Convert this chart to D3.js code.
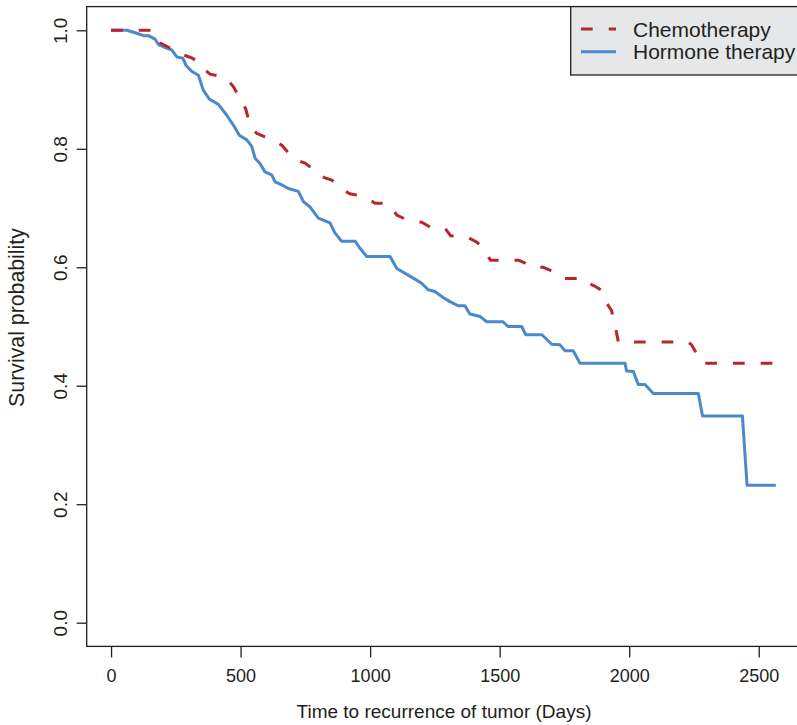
<!DOCTYPE html>
<html lang="en">
<head>
  <meta charset="UTF-8">
  <title>Survival curves - recurrence of tumor</title>
  <script src="https://d3js.org/d3.v7.min.js"></script>
  <style>
    body { margin: 0; background: #fff; }
    svg text { font-family: "Liberation Sans", Arial, Helvetica, sans-serif; fill: #231f20; }
  </style>
</head>
<body>
  <svg width="797" height="725"></svg>

  <script>
    // curve vertices: time (days) and survival probability
    const chemoDays = [0, 158, 174, 189, 228, 259, 289, 313, 343, 356, 382, 413, 444, 472, 490, 504, 520, 529, 539, 562,
      594, 620, 659, 675, 697, 727, 749, 775, 800, 826, 852, 880, 903, 922, 970, 999, 1019, 1064, 1084, 1103, 1137,
      1162, 1199, 1231, 1262, 1289, 1311, 1339, 1370, 1409, 1424, 1443, 1465, 1574, 1598, 1621, 1668, 1694, 1713,
      1745, 1825, 1842, 1868, 1890, 1904, 1918, 1932, 1941, 1949, 1958, 2227, 2241, 2266, 2281, 2566];
    const chemoSurv = [1.0, 1.0, 0.987, 0.979, 0.970, 0.963, 0.957, 0.953, 0.945, 0.936, 0.926, 0.923, 0.919, 0.905, 0.891,
      0.882, 0.867, 0.852, 0.838, 0.826, 0.820, 0.816, 0.806, 0.798, 0.787, 0.779, 0.776, 0.767, 0.756, 0.751, 0.747,
      0.737, 0.729, 0.724, 0.720, 0.714, 0.708, 0.708, 0.700, 0.688, 0.681, 0.678, 0.676, 0.668, 0.668, 0.666, 0.653,
      0.652, 0.652, 0.643, 0.638, 0.625, 0.612, 0.612, 0.607, 0.600, 0.600, 0.595, 0.591, 0.581, 0.581, 0.573, 0.568,
      0.562, 0.545, 0.536, 0.527, 0.508, 0.494, 0.474, 0.474, 0.469, 0.450, 0.438, 0.438];

    const hormoneDays = [0, 61, 99, 125, 144, 170, 183, 208, 234, 254, 277, 289, 311, 337, 356, 379, 414, 446, 472, 495,
      524, 543, 556, 575, 594, 620, 633, 659, 684, 723, 742, 768, 800, 845, 864, 890, 942, 961, 987, 1077, 1103, 1173,
      1199, 1224, 1250, 1282, 1308, 1340, 1366, 1385, 1424, 1450, 1513, 1532, 1585, 1601, 1663, 1701, 1733, 1752, 1784,
      1810, 1984, 1990, 2016, 2035, 2061, 2093, 2267, 2283, 2437, 2455, 2566];
    const hormoneSurv = [1.0, 1.0, 0.995, 0.991, 0.991, 0.985, 0.976, 0.971, 0.967, 0.955, 0.953, 0.941, 0.931, 0.924,
      0.899, 0.884, 0.875, 0.857, 0.840, 0.823, 0.815, 0.804, 0.784, 0.775, 0.761, 0.756, 0.744, 0.739, 0.733, 0.728,
      0.711, 0.702, 0.683, 0.675, 0.658, 0.644, 0.644, 0.632, 0.618, 0.618, 0.598, 0.580, 0.573, 0.562, 0.559, 0.549,
      0.542, 0.535, 0.535, 0.521, 0.517, 0.508, 0.508, 0.500, 0.500, 0.486, 0.486, 0.470, 0.469, 0.459, 0.459, 0.438,
      0.438, 0.425, 0.424, 0.402, 0.402, 0.387, 0.387, 0.349, 0.349, 0.232, 0.232];

    const xTicks = [0, 500, 1000, 1500, 2000, 2500];
    const yTicks = [0.0, 0.2, 0.4, 0.6, 0.8, 1.0];
    const seriesNames = ["Chemotherapy", "Hormone therapy"];

    const red = "#b8252d";
    const blue = "#4a89cb";
    const ink = "#231f20";

    const svg = d3.select("svg");

    // R style: axes run 4% past the data range
    const x = d3.scaleLinear().domain([-94, 2662]).range([86.7, 800.7]);
    const y = d3.scaleLinear().domain([-0.04, 1.04]).range([646.4, 6.6]);

    const chemo = chemoDays.map((d, i) => ({ t: d, s: chemoSurv[i] }));
    const hormone = hormoneDays.map((d, i) => ({ t: d, s: hormoneSurv[i] }));

    const line = d3.line().x(d => x(d.t)).y(d => y(d.s));

    svg.append("path")
      .datum(hormone)
      .attr("d", line)
      .attr("fill", "none")
      .attr("stroke", blue)
      .attr("stroke-width", 3)
      .attr("stroke-linejoin", "round");

    svg.append("path")
      .datum(chemo)
      .attr("d", line)
      .attr("fill", "none")
      .attr("stroke", red)
      .attr("stroke-width", 3)
      .attr("stroke-dasharray", "11.7,16");

    // plot frame
    svg.append("rect")
      .attr("x", x.range()[0])
      .attr("y", y.range()[1])
      .attr("width", x.range()[1] - x.range()[0])
      .attr("height", y.range()[0] - y.range()[1])
      .attr("fill", "none")
      .attr("stroke", ink)
      .attr("stroke-width", 1.3);

    // x axis
    const gx = svg.append("g")
      .attr("transform", `translate(0,${y.range()[0]})`)
      .call(d3.axisBottom(x).tickValues(xTicks).tickSize(11).tickFormat(d3.format("d")));
    gx.select(".domain").remove();
    gx.selectAll(".tick line").attr("stroke", ink).attr("stroke-width", 1.3);
    gx.selectAll(".tick text")
      .attr("y", 35.3)
      .attr("dy", null)
      .style("font-size", "18px")
      .style("font-family", null);

    // y axis
    const gy = svg.append("g")
      .attr("transform", `translate(${x.range()[0]},0)`)
      .call(d3.axisLeft(y).tickValues(yTicks).tickSize(10).tickFormat(d3.format(".1f")));
    gy.select(".domain").remove();
    gy.selectAll(".tick line").attr("stroke", ink).attr("stroke-width", 1.3);
    gy.selectAll(".tick text")
      .attr("x", null)
      .attr("dy", null)
      .attr("text-anchor", "middle")
      .attr("transform", "translate(-20,0) rotate(-90)")
      .style("font-size", "19px")
      .style("font-family", null);

    // axis titles
    svg.append("text")
      .attr("x", 444)
      .attr("y", 718)
      .attr("text-anchor", "middle")
      .style("font-size", "19px")
      .text("Time to recurrence of tumor (Days)");

    svg.append("text")
      .attr("transform", "translate(23.5,317.5) rotate(-90)")
      .attr("text-anchor", "middle")
      .style("font-size", "21.3px")
      .text("Survival probability");

    // legend
    const legend = svg.append("g");
    legend.append("rect")
      .attr("x", 570.7)
      .attr("y", 6.6)
      .attr("width", 260)
      .attr("height", 68.4)
      .attr("fill", "#e6e7e8")
      .attr("stroke", ink)
      .attr("stroke-width", 1.3);

    const legendRows = [
      { name: seriesNames[0], color: red, dash: "11.7,16", ly: 29, ty: 36.5 },
      { name: seriesNames[1], color: blue, dash: null, ly: 51.7, ty: 59.3 }
    ];
    legendRows.forEach(r => {
      legend.append("line")
        .attr("x1", 581).attr("x2", 616)
        .attr("y1", r.ly).attr("y2", r.ly)
        .attr("stroke", r.color)
        .attr("stroke-width", 3)
        .attr("stroke-dasharray", r.dash);
      legend.append("text")
        .attr("x", 633)
        .attr("y", r.ty)
        .style("font-size", "21px")
        .text(r.name);
    });
  </script>
</body>
</html>
